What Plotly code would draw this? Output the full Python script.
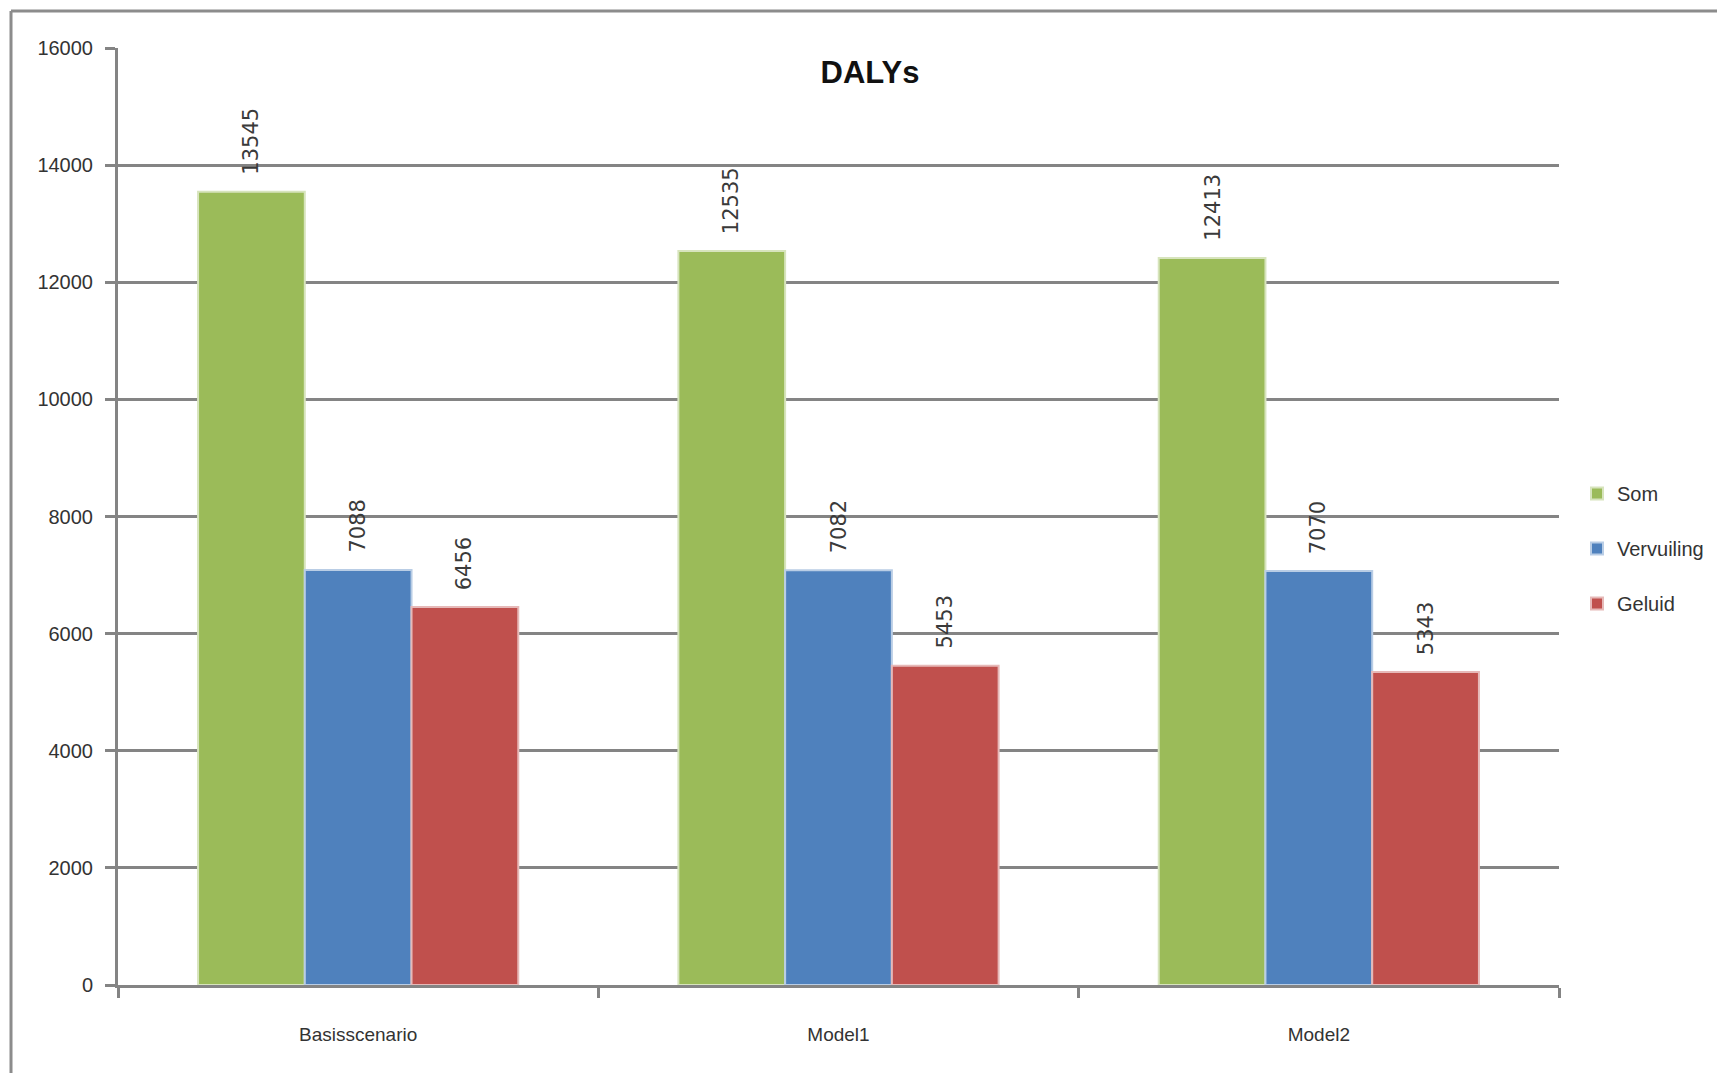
import plotly.graph_objects as go

categories = ["Basisscenario", "Model1", "Model2"]
series_names = ["Som", "Vervuiling", "Geluid"]
som = [13545, 12535, 12413]
vervuiling = [7088, 7082, 7070]
geluid = [6456, 5453, 5343]
colors = ["#9BBB59", "#4F81BD", "#C0504D"]
edge_colors = ["#D7E4BD", "#B9CDE5", "#E6B9B8"]
y_ticks = list(range(0, 16001, 2000))

values = [som, vervuiling, geluid]

fig = go.Figure()
for i, (name, vals) in enumerate(zip(series_names, values)):
    fig.add_trace(go.Bar(
        x=categories, y=vals, name=name,
        marker=dict(color=colors[i], line=dict(color=edge_colors[i], width=2)),
        legendgroup=name,
    ))

# page has an 8px body margin; positions below are in page pixels
OFF = 8
W, H = 1725 - 2 * OFF, 1081 - 2 * OFF
PL, PR, PT, PB = 118, 1559, 48, 985   # plot area in page pixels
L, T = PL - OFF, PT - OFF
R = OFF + W - PR
B = OFF + H - PB
pw = PR - PL
ph = PB - PT
barw = pw / 3 * (2 / 3) / 3

annotations = []
for i, vals in enumerate(values):
    for c, v in zip(categories, vals):
        annotations.append(dict(
            x=c, y=v, xref="x", yref="y", text=str(v), showarrow=False,
            textangle=-90, xshift=(i - 1) * barw, yshift=15, yanchor="bottom",
            font=dict(size=21, color="#3a3a3a", family="DejaVu Sans"),
        ))

def px(x):
    return (x - PL) / pw

def py(y):
    return (PB - y) / ph

fig.update_layout(
    width=W, height=H,
    margin=dict(l=L, r=R, t=T, b=B, autoexpand=False),
    paper_bgcolor="white", plot_bgcolor="white",
    barmode="group", bargap=1/3, bargroupgap=0,
    title=dict(text="<b>DALYs</b>", x=(870 - OFF) / W, xanchor="center", y=1 - (72 - OFF) / H,
               yanchor="middle",
               font=dict(size=31, color="#111111", family="Liberation Sans, Arial")),
    font=dict(family="Liberation Sans, Arial", color="#333333", size=19),
    showlegend=True,
    legend=dict(x=px(1577), y=py(474), xanchor="left", yanchor="top",
                font=dict(size=20, color="#333333"), tracegroupgap=26, itemwidth=30),
    annotations=annotations,
    shapes=[
        dict(type="line", xref="paper", yref="paper", x0=px(11), x1=px(1725),
             y0=py(11), y1=py(11), line=dict(color="#8C8C8C", width=3)),
        dict(type="line", xref="paper", yref="paper", x0=px(11), x1=px(11),
             y0=py(11), y1=py(1081), line=dict(color="#8C8C8C", width=3)),
    ],
)
fig.update_xaxes(
    type="category", tickson="boundaries", ticks="outside", ticklen=10, tickwidth=3,
    tickcolor="#848484", showline=True, linecolor="#848484", linewidth=3,
    showgrid=False, tickfont=dict(size=19, color="#333333"), ticklabelstandoff=30,
)
fig.update_yaxes(
    range=[0, 16000], tickvals=y_ticks, ticktext=[str(t) for t in y_ticks],
    ticks="outside", ticklen=10, tickwidth=3, tickcolor="#848484",
    showline=True, linecolor="#848484", linewidth=3,
    showgrid=True, gridcolor="#848484", gridwidth=3, zeroline=False,
    tickfont=dict(size=20, color="#333333"), ticklabelstandoff=8,
)
fig.write_html("out.html")
